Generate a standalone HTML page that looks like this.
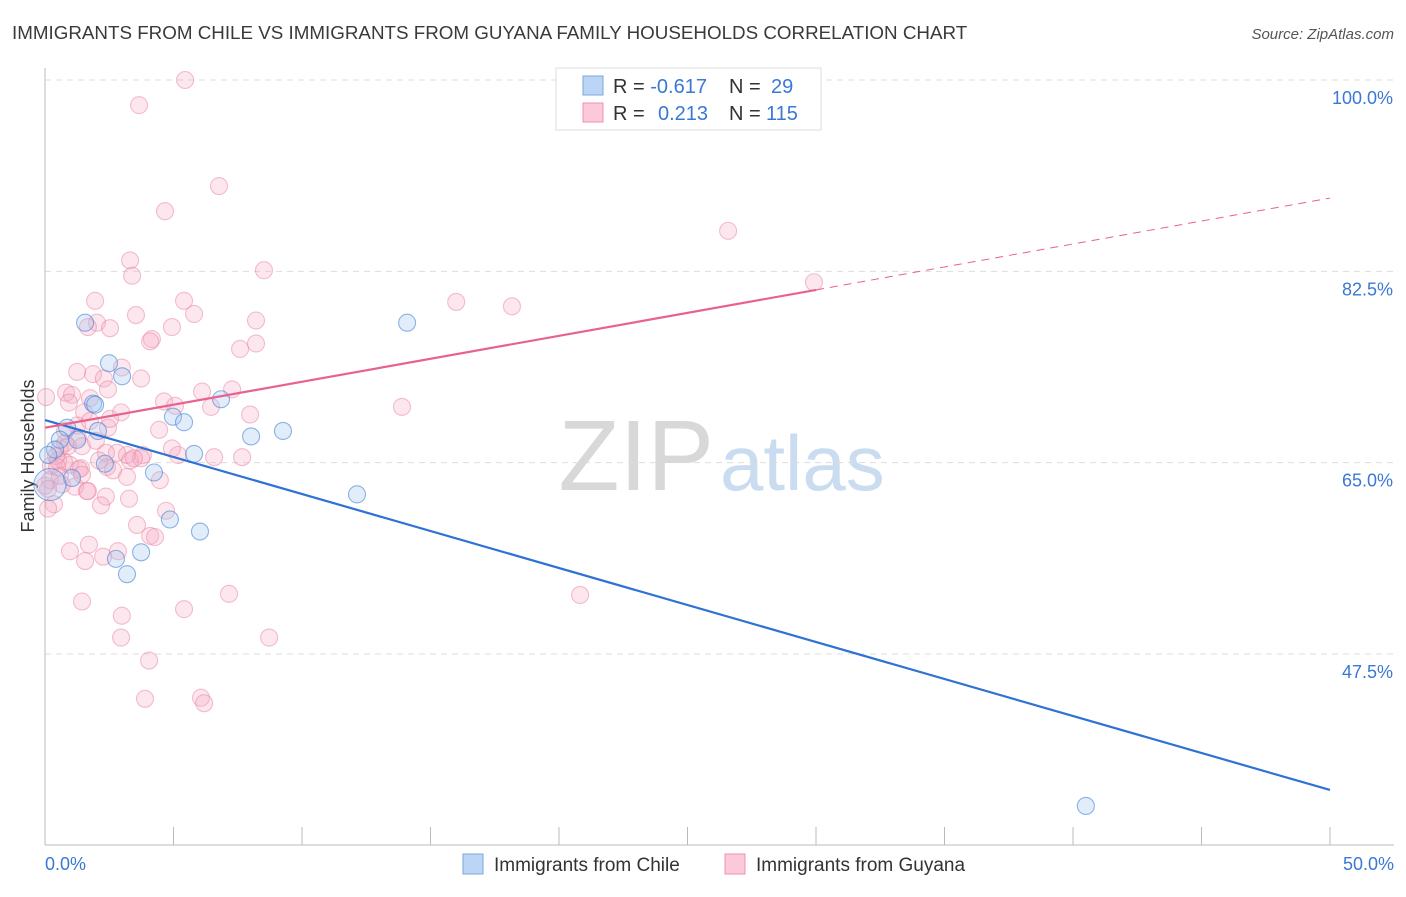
<!DOCTYPE html>
<html><head><meta charset="utf-8"><style>
body{margin:0;background:#fff;font-family:"Liberation Sans",sans-serif;}
svg text{font-family:"Liberation Sans",sans-serif;}
</style></head><body>
<svg id="chart" width="1406" height="892" xmlns="http://www.w3.org/2000/svg">
<text x="12" y="39" font-size="18.8" fill="#3a3a3a">IMMIGRANTS FROM CHILE VS IMMIGRANTS FROM GUYANA FAMILY HOUSEHOLDS CORRELATION CHART</text>
<text x="1394" y="39" font-size="15" fill="#555" text-anchor="end" font-style="italic">Source: ZipAtlas.com</text>
<text x="714" y="490" font-size="100" fill="#d8d8d8" text-anchor="end" font-family="Liberation Serif">ZIP</text>
<text x="720" y="490" font-size="78" fill="#c9dcf0">atlas</text>
<text transform="translate(34,456) rotate(-90)" font-size="18" fill="#333" text-anchor="middle">Family Households</text>
<g id="grid"></g><g id="axes"></g><g id="pts"></g><g id="lines"></g>
<g>
<rect x="556" y="68" width="265" height="62" fill="#fff" stroke="#ddd"/>
<rect x="583" y="76" width="20" height="19" fill="#bcd5f5" stroke="#7aa7e0"/>
<rect x="583" y="103" width="20" height="19" fill="#fcc9d8" stroke="#ef93b0"/>
<text x="613" y="93" font-size="20" fill="#333">R = <tspan fill="#3a78d4">-0.617</tspan><tspan x="729">N = </tspan><tspan fill="#3a78d4" x="771">29</tspan></text>
<text x="613" y="120" font-size="20" fill="#333">R = <tspan fill="#3a78d4" x="658">0.213</tspan><tspan x="729">N = </tspan><tspan fill="#3a78d4" x="766">115</tspan></text>
</g>
<g>
<rect x="463" y="854" width="20" height="20" fill="#bcd5f5" stroke="#7aa7e0"/>
<text x="494" y="871" font-size="19" fill="#333">Immigrants from Chile</text>
<rect x="725" y="854" width="20" height="20" fill="#fcc9d8" stroke="#ef93b0"/>
<text x="756" y="871" font-size="19" fill="#333">Immigrants from Guyana</text>
</g>
</svg>
<script>
const xTicks=[0,5,10,15,20,25,30,35,40,45,50];
const yTicks=[100,82.5,65,47.5];
const yTickLabels=["100.0%","82.5%","65.0%","47.5%"];
const xTickLabels=["0.0%","50.0%"];
const chileX=[1.56,14.09,3.0,2.49,1.87,6.85,4.98,5.41,8.02,9.26,2.06,0.86,5.8,2.33,4.24,1.05,12.14,4.86,6.03,2.76,3.74,3.19,40.5,0.19,0.58,0.39,1.25,1.95,0.12];
const chileY=[77.8,77.8,72.9,74.1,70.4,70.8,69.2,68.7,67.4,67.9,67.9,68.2,65.8,64.9,64.1,63.6,62.1,59.8,58.7,56.2,56.8,54.8,33.6,63.0,67.1,66.2,67.1,70.3,65.7];
const guyanaX=[5.45,3.66,6.77,4.67,26.58,3.31,3.39,8.52,29.92,1.95,5.41,16.0,18.17,3.54,5.8,2.02,2.53,4.94,1.67,8.21,4.16,4.09,7.59,8.21,1.25,1.87,2.99,2.29,3.74,0.82,1.05,1.75,2.45,6.11,7.28,4.63,5.06,13.89,6.46,1.52,7.98,1.25,1.75,2.45,1.28,0.78,1.44,1.98,2.8,3.19,3.81,5.18,6.58,7.67,3.31,3.74,0.58,0.89,0.43,0.74,0.23,0.51,0.97,1.4,2.41,0.19,0.66,1.17,1.67,2.37,3.19,4.47,0.12,2.18,3.27,1.63,4.71,0.35,0.12,3.58,4.09,4.28,1.71,0.97,2.84,2.26,1.56,20.82,7.16,1.44,2.99,5.41,2.96,8.72,4.05,3.89,6.07,6.19,2.37,0,0.58,0.78,0.47,1.32,2.1,2.65,3.46,4.94,1.44,0.93,2.96,4.44,2.53,0.04];
const guyanaY=[100,97.7,90.3,88.0,86.2,83.5,82.1,82.6,81.5,79.8,79.8,79.7,79.3,78.5,78.6,77.8,77.3,77.4,77.4,78.0,76.3,76.1,75.4,75.9,73.3,73.1,73.7,72.7,72.7,71.4,71.2,70.9,71.7,71.5,71.7,70.6,70.2,70.1,70.1,69.6,69.4,68.4,68.8,68.2,67.3,66.8,66.5,67.0,65.9,65.7,65.7,65.7,65.5,65.5,65.2,65.4,66.3,66.5,65.6,65.1,64.7,65.2,64.8,64.5,64.6,63.4,63.0,62.8,62.4,61.9,63.7,63.4,62.6,61.1,61.7,62.4,60.6,61.2,60.8,59.3,58.3,58.2,57.5,56.9,56.9,56.4,56.0,52.9,53.0,52.3,51.0,51.6,49.0,49.0,46.9,43.4,43.5,43.0,65.9,62.9,63.8,67.9,64.6,64.4,65.2,64.3,65.4,66.3,63.9,70.5,69.6,68.0,69.0,71.0,62.0];
const chileTrend=[68.9,35.06];
const guyanaTrend=[68.2,0.42];
const NS="http://www.w3.org/2000/svg";
const X=v=>45+v*25.7, Y=v=>80+(100-v)*10.933;
function mk(p,t,a){const e=document.createElementNS(NS,t);for(const k in a)e.setAttribute(k,a[k]);p.appendChild(e);return e;}
const grid=document.getElementById('grid'),axes=document.getElementById('axes'),pts=document.getElementById('pts'),lines=document.getElementById('lines');
yTicks.forEach((v,i)=>{
const g=mk(grid,'line',{x1:45,x2:1394,y1:Y(v),y2:Y(v),stroke:'#ddd','stroke-dasharray':'6,5'});


const t=mk(axes,'text',{x:1393,y:Y(v)+24,'font-size':18,fill:'#3a78d4','text-anchor':'end'});
t.textContent=yTickLabels[i];


});
mk(axes,'line',{x1:45,x2:45,y1:68,y2:845,stroke:'#bbb'});
mk(axes,'line',{x1:45,x2:1394,y1:845,y2:845,stroke:'#bbb'});
xTicks.forEach(v=>{const l=mk(axes,'line',{x1:X(v),x2:X(v),y1:827,y2:845,stroke:'#bbb'});

});
[[0,'start',45],[50,'end',1394]].forEach((a,i)=>{const t=mk(axes,'text',{x:a[2],y:870,'font-size':18,fill:'#3a78d4','text-anchor':a[1]});t.textContent=xTickLabels[i];

});
guyanaX.forEach((x,i)=>{const c=mk(pts,'circle',{cx:X(x),cy:Y(guyanaY[i]),r:8.5,fill:'rgba(246,170,194,0.28)',stroke:'rgba(236,130,162,0.5)','stroke-width':1.1});

});
chileX.forEach((x,i)=>{const c=mk(pts,'circle',{cx:X(x),cy:Y(chileY[i]),r:i==23?16:8.5,fill:'rgba(160,196,240,0.3)',stroke:'rgba(70,130,215,0.6)','stroke-width':1.1});

});
const bl=mk(lines,'line',{x1:X(0),y1:Y(chileTrend[0]),x2:X(50),y2:Y(chileTrend[1]),stroke:'#2f72d4','stroke-width':2.2});


const gy=x=>guyanaTrend[0]+guyanaTrend[1]*x;
const pl=mk(lines,'line',{x1:X(0),y1:Y(gy(0)),x2:X(30),y2:Y(gy(30)),stroke:'#e8628e','stroke-width':2.2});


const pd=mk(lines,'line',{x1:X(30),y1:Y(gy(30)),x2:X(50),y2:Y(gy(50)),stroke:'#e8628e','stroke-width':1,'stroke-dasharray':'8,6'});


</script>
</body></html>
